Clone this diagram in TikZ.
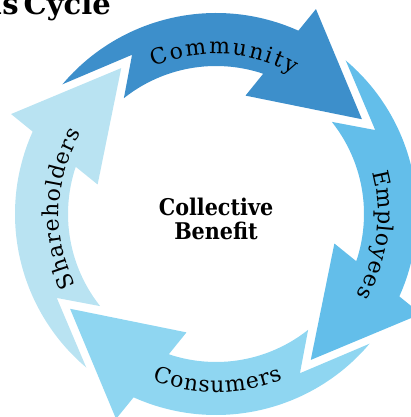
\documentclass[tikz,border=0pt]{standalone}
\usepackage{fontspec}
\setmainfont{DejaVu Serif}
\newfontfamily\narrowserif{DejaVu Serif Condensed}
\usetikzlibrary{decorations.text}
\definecolor{communityblue}{RGB}{61,143,203}
\definecolor{employeesblue}{RGB}{99,190,234}
\definecolor{consumersblue}{RGB}{143,214,241}
\definecolor{shareholdersblue}{RGB}{185,227,242}
\newcommand{\arclabel}{\fontsize{22}{22}\selectfont}
\begin{document}
\begin{tikzpicture}[x=1pt,y=1pt]
\useasboundingbox (-216,-203) rectangle (195,214);
\clip (-216,-203) rectangle (195,214);
%one arrow shape, turned a quarter each time
\foreach \rot/\col in {0/communityblue,-90/employeesblue,-180/consumersblue,90/shareholdersblue}
  \fill[\col,rotate=\rot] (33:174) -- (64:228) -- (65.8:201) arc[start angle=65.8,end angle=139.8,radius=201] -- (117.8:180) -- (128.5:148) arc[start angle=128.5,end angle=71.4,radius=148] -- (76:122) -- cycle;
\path[decorate,decoration={text along path,text={|\arclabel|Community},text align={fit to path}}] (113:160) arc[start angle=113,end angle=61,radius=160];
\path[decorate,decoration={text along path,text={|\arclabel|Employees},text align={fit to path}}] (15:162) arc[start angle=15,end angle=-30,radius=162];
\path[decorate,decoration={text along path,text={|\arclabel|Consumers},text align={fit to path}}] (-111:178) arc[start angle=-111,end angle=-68,radius=178];
\path[decorate,decoration={text along path,text={|\arclabel|Shareholders},text align={fit to path}}] (207:157) arc[start angle=207,end angle=149,radius=157];
\node[font=\narrowserif\bfseries\fontsize{23}{24}\selectfont,align=center] (benefit) at (0,-5) {Collective\\Benefit};
\node[font=\bfseries\fontsize{29}{29}\selectfont,anchor=base east,inner sep=0pt] (title) at (-105,199) {us\hspace{-5pt} Cycle};
\end{tikzpicture}
\end{document}
